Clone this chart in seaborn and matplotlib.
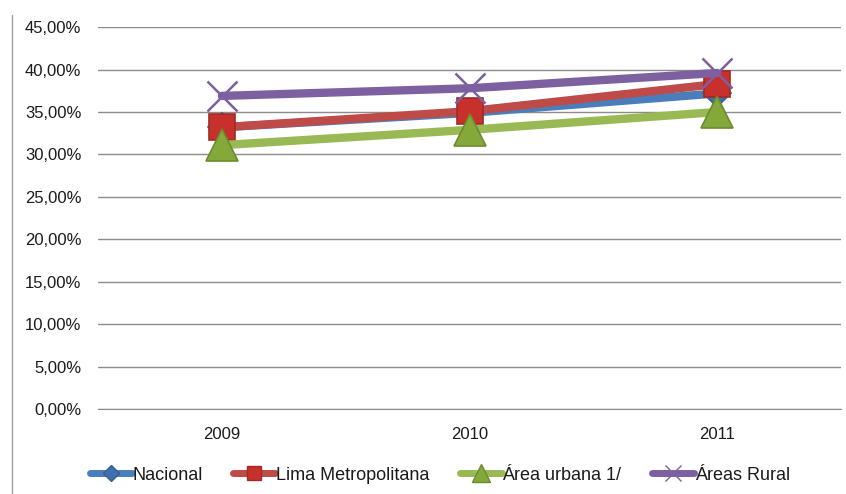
import matplotlib
matplotlib.use("Agg")
import matplotlib.pyplot as plt
from matplotlib.lines import Line2D
import seaborn as sns
import pandas as pd
from matplotlib.ticker import FuncFormatter, MultipleLocator

years = ["2009", "2010", "2011"]
nacional = [33.2, 34.9, 37.2]
lima = [33.2, 35.1, 38.3]
urbana = [31.1, 32.9, 35.0]
rural = [36.9, 37.8, 39.6]
series_names = ["Nacional", "Lima Metropolitana", "Área urbana 1/", "Áreas Rural"]

sns.set_style("white")
plt.rcParams['font.family'] = ['Liberation Sans', 'DejaVu Sans']

rows = []
for name, vals in zip(series_names, [nacional, lima, urbana, rural]):
    for y, v in zip(years, vals):
        rows.append({"Año": y, "Valor": v, "Serie": name})
df = pd.DataFrame(rows)

colors = {"Nacional": "#4A7EBB", "Lima Metropolitana": "#BE4B48",
          "Área urbana 1/": "#98B954", "Áreas Rural": "#7D60A0"}
markers = {"Nacional": "D", "Lima Metropolitana": "s",
           "Área urbana 1/": "^", "Áreas Rural": "x"}
msizes = {"Nacional": 14, "Lima Metropolitana": 19,
          "Área urbana 1/": 23, "Áreas Rural": 22}
mfc = {"Nacional": "#3F6FAF", "Lima Metropolitana": "#C8302B",
       "Área urbana 1/": "#85A83A", "Áreas Rural": "#7D60A0"}
mec = {"Nacional": "#355E94", "Lima Metropolitana": "#A02A27",
       "Área urbana 1/": "#6C8A2E", "Áreas Rural": "#7D60A0"}
mew = {"Nacional": 1.2, "Lima Metropolitana": 1.2,
       "Área urbana 1/": 1.2, "Áreas Rural": 1.8}

fig = plt.figure(figsize=(8.46, 4.94), dpi=100)
ax = fig.add_axes([0.116, 0.172, 0.878, 0.773])

for name in series_names:
    sub = df[df["Serie"] == name]
    sns.lineplot(data=sub, x="Año", y="Valor", ax=ax, color=colors[name],
                 linewidth=6, marker=markers[name], markersize=msizes[name],
                 markerfacecolor=mfc[name], markeredgecolor=mec[name],
                 markeredgewidth=mew[name], sort=False, legend=False)

ax.set_xlim(-0.5, 2.5)
ax.set_ylim(0, 45)
ax.yaxis.set_major_locator(MultipleLocator(5))
ax.yaxis.set_major_formatter(FuncFormatter(lambda v, p: f"{v:.2f}".replace(".", ",") + "%"))
ax.grid(axis="y", color="#8C8C8C", linewidth=1)
ax.set_axisbelow(True)
for s in ["top", "right", "left"]:
    ax.spines[s].set_visible(False)
ax.spines["bottom"].set_color("#8C8C8C")
ax.tick_params(axis="both", length=0, labelsize=12, colors="#1A1A1A")
ax.tick_params(axis="y", pad=12)
ax.tick_params(axis="x", pad=13)
ax.set_xlabel("")
ax.set_ylabel("")

# chart border line on the left
fig.add_artist(Line2D([0.0142, 0.0142], [0.0, 0.97], color="#A0A0A0", linewidth=1,
                      transform=fig.transFigure))

handles = [Line2D([], [], color=colors[n], linewidth=5, marker=markers[n],
                  markersize=msizes[n] * 0.55, markerfacecolor=mfc[n],
                  markeredgecolor=mec[n], markeredgewidth=1)
           for n in series_names]
ax.legend(handles, series_names, loc="upper center", bbox_to_anchor=(0.46, -0.108), ncol=4,
          frameon=False, fontsize=13, handlelength=2.3, handletextpad=0.05,
          columnspacing=1.7, labelcolor="#1A1A1A")

fig.savefig("out.png", dpi=100)
